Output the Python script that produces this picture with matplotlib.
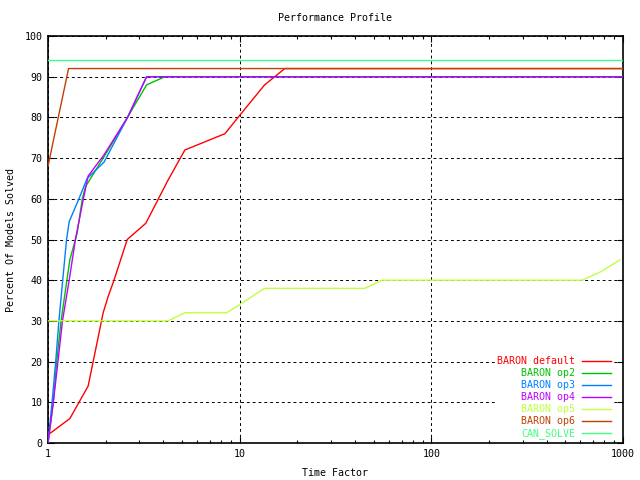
#!/usr/bin/env python3
"""Performance profile of BARON option sets (gnuplot-style recreation)."""

import matplotlib
matplotlib.use("Agg")
import matplotlib.pyplot as plt
from matplotlib.ticker import FixedLocator, LogLocator, NullFormatter

# time factor / percent of models solved
default_t = [1, 1.3, 1.62, 1.94, 2.06, 2.21, 2.59, 3.24, 4.23, 5.18, 8.38, 10, 13.5, 17.2, 1000]
default_v = [2, 6, 14, 32, 36, 40, 50, 54, 64.6, 72, 76, 80.5, 88, 92, 92]

op2_t = [1, 1.066, 1.11, 1.17, 1.3, 1.42, 1.51, 1.57, 2.0, 2.6, 2.75, 3.27, 4.08, 1000]
op2_v = [0, 10, 20, 30, 45, 51.6, 60, 63, 71, 80, 82, 88, 90, 90]

op3_t = [1, 1.05, 1.097, 1.14, 1.21, 1.25, 1.29, 1.45, 1.6, 1.96, 2.6, 3.27, 1000]
op3_v = [0, 10, 20, 30, 43, 50, 54.4, 60, 65, 69, 80, 90, 90]

op4_t = [1, 1.066, 1.127, 1.19, 1.29, 1.39, 1.53, 1.62, 1.96, 2.6, 3.27, 1000]
op4_v = [0, 10, 20, 30, 40, 50, 60, 65.6, 70.8, 80, 90, 90]

op5_t = [1, 4.23, 5.18, 8.55, 10, 13.5, 45, 55.2, 611, 759, 964]
op5_v = [30, 30, 32, 32, 34, 38, 38, 40, 40, 42, 45]

op6_t = [1, 1.28, 1000]
op6_v = [68, 92, 92]

can_t = [1, 1000]
can_v = [94, 94]

series = [
    ("BARON default", default_t, default_v, "#ff0000"),
    ("BARON op2", op2_t, op2_v, "#00c000"),
    ("BARON op3", op3_t, op3_v, "#0080ff"),
    ("BARON op4", op4_t, op4_v, "#c000ff"),
    ("BARON op5", op5_t, op5_v, "#c0ff40"),
    ("BARON op6", op6_t, op6_v, "#c04000"),
    ("CAN_SOLVE", can_t, can_v, "#40ff80"),
]

y_ticks = list(range(0, 101, 10))
x_ticks = [1, 10, 100, 1000]
x_tick_labels = ["1", "10", "100", "1000"]

FONT = "DejaVu Sans Mono"
FS = 7.2

fig = plt.figure(figsize=(6.4, 4.8), dpi=100)
ax = fig.add_axes([48 / 640, 1 - 443 / 480, 575 / 640, 407 / 480])

for label, t, v, color in series:
    ax.plot(t, v, color=color, lw=1.0, label=label, zorder=3)

ax.set_xscale("log")
ax.set_xlim(1, 1000)
ax.set_ylim(0, 100)
ax.xaxis.set_major_locator(FixedLocator(x_ticks))
ax.set_xticklabels(x_tick_labels, fontfamily=FONT, fontsize=FS)
ax.xaxis.set_minor_locator(LogLocator(base=10, subs=range(2, 10)))
ax.xaxis.set_minor_formatter(NullFormatter())
ax.set_yticks(y_ticks)
ax.set_yticklabels([str(y) for y in y_ticks], fontfamily=FONT, fontsize=FS)
ax.tick_params(which="major", direction="in", length=4.5, width=0.8,
               top=True, right=True, pad=4)
ax.tick_params(which="minor", direction="in", length=2.2, width=0.8,
               top=True, right=True)
for spine in ax.spines.values():
    spine.set_linewidth(1.2)

ax.grid(True, which="major", color="black", lw=0.7, linestyle=(0, (3, 3)), zorder=1)

ax.set_title("Performance Profile", fontfamily=FONT, fontsize=FS, pad=11)
ax.set_xlabel("Time Factor", fontfamily=FONT, fontsize=FS, labelpad=7)
ax.set_ylabel("Percent Of Models Solved", fontfamily=FONT, fontsize=FS, labelpad=6)

# gnuplot-style key: right-aligned coloured text, no border
leg = ax.legend(loc="lower right", bbox_to_anchor=(1 - 11 / 575, 3 / 407),
                markerfirst=False, frameon=True, fancybox=False,
                prop={"family": FONT, "size": FS}, labelcolor="linecolor",
                handlelength=2.9, handletextpad=0.7, labelspacing=0.2,
                borderaxespad=0.0, borderpad=0.1)
leg.get_frame().set_edgecolor("none")
leg.get_frame().set_facecolor("white")
leg.get_frame().set_alpha(1.0)

fig.savefig("out.png", dpi=100)
